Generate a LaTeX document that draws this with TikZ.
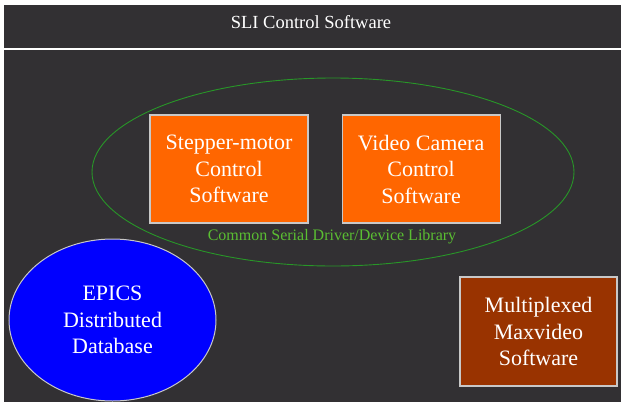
\documentclass[tikz,border=0pt]{standalone}
\usepackage{fontspec}
\setmainfont{Liberation Serif}
\usetikzlibrary{shapes, fit}
\usetikzlibrary{positioning}

\definecolor{panelgrey}{RGB}{50,48,51}
\definecolor{modorange}{RGB}{255,102,0}
\definecolor{modbrown}{RGB}{153,51,0}
\definecolor{edgegrey}{RGB}{200,200,200}
\definecolor{libgreen}{RGB}{40,150,40}
\definecolor{libtext}{RGB}{90,190,50}

\begin{document}
\begin{tikzpicture}[x=1pt, y=-1pt,
    module/.style={rectangle, draw=edgegrey, line width=1.1pt, inner sep=0pt,
        minimum width=158pt, minimum height=108pt, align=center, text=white,
        font=\fontsize{22}{26.5}\selectfont},
    database/.style={shape=ellipse, draw=edgegrey, fill=blue, line width=1pt,
        minimum width=207pt, minimum height=162pt, align=center, text=white,
        font=\fontsize{22}{26.5}\selectfont},
    library/.style={shape=ellipse, draw=libgreen, line width=0.9pt, inner sep=0pt,
        minimum width=482pt, minimum height=188pt}
    ]
    \useasboundingbox (0,0) rectangle (621,402);
    \fill[white] (0,0) rectangle (621,402);
    \fill[panelgrey] (4,5) rectangle (621,402);

    % header
    \node[text=white, font=\fontsize{18.5}{22}\selectfont] (title) at (311,22) {SLI Control Software};
    \coordinate (headl) at (4,49);
    \coordinate (headr) at (621,49);
    \draw[white, line width=1.3pt] (headl) -- (headr);

    % serial driver library with its two modules
    \node[library] (serial) at (333,172) {};
    \node[module, fill=modorange] (stepper) at (229,169) {Stepper-motor\\Control\\Software};
    \node[module, fill=modorange, right=33pt of stepper] (camera) {Video Camera\\Control\\Software};
    \node[text=libtext, font=\fontsize{16}{18}\selectfont] (seriallabel) at (332,237) {Common Serial Driver/Device Library};

    % the rest
    \node[database] (epics) at (112.5,320) {EPICS\\Distributed\\Database};
    \node[module, fill=modbrown, minimum width=157pt, minimum height=109pt] (maxvideo) at (538.5,331.5) {Multiplexed\\Maxvideo\\Software};
\end{tikzpicture}
\end{document}
